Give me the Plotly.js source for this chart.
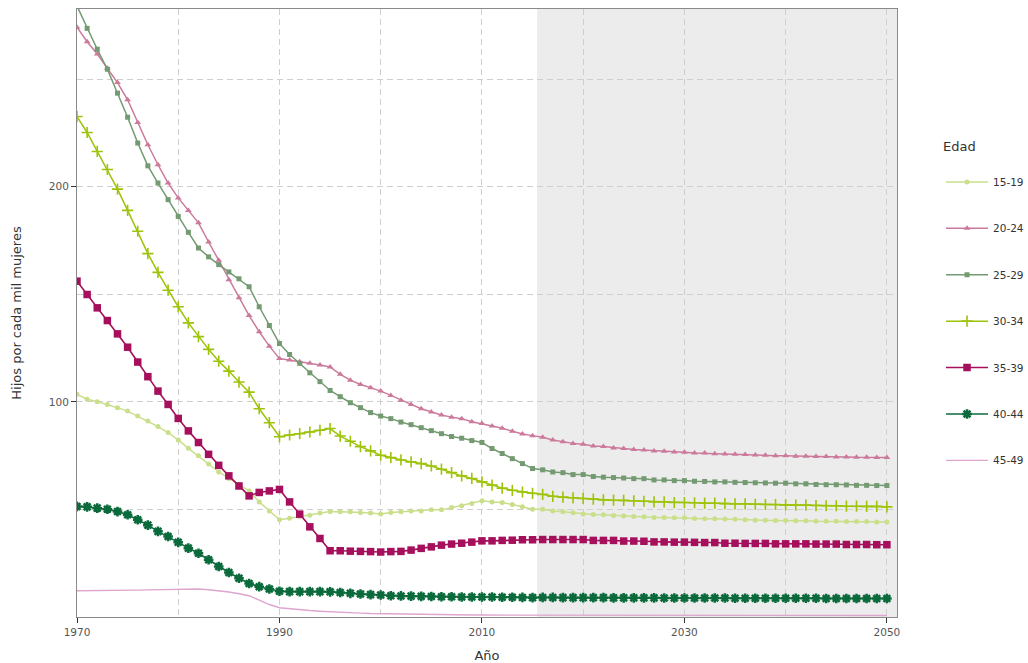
<!DOCTYPE html>
<html>
<head>
<meta charset="utf-8">
<script src="https://cdn.plot.ly/plotly-3.0.1.min.js"></script>
<style>html,body{margin:0;padding:0;background:#fff;}#chart{width:1028px;height:663px;}</style>
</head>
<body>
<div id="chart"></div>
<script>
// Years 1970..2050
const years = Array.from({length: 81}, (_, i) => 1970 + i);
const seriesNames = ["15-19", "20-24", "25-29", "30-34", "35-39", "40-44", "45-49"];

const s1519 = [
 103.5, 101.2, 100.1, 98.8, 97.3, 95.7, 93.4, 91.1, 88.5, 85.7,
 82.3, 78.4, 74.9, 71.1, 67.4, 64.4, 61.7, 58.6, 53.5, 49.3,
 45.2, 45.9, 46.7, 47.3, 48.3, 49.0, 48.9, 48.9, 48.6, 48.3,
 47.9, 48.6, 48.9, 49.3, 49.3, 49.8, 49.8, 50.9, 51.7, 52.8,
 54.0, 53.5, 53.2, 52.3, 51.2, 50.1, 50.1, 49.3, 48.9, 48.4,
 47.9, 47.6, 47.5, 47.2, 46.9, 46.7, 46.6, 46.3, 46.3, 46.1,
 46.1, 45.8, 45.7, 45.7, 45.5, 45.4, 45.2, 45.0, 45.0, 44.9,
 44.9, 44.7, 44.7, 44.5, 44.5, 44.5, 44.4, 44.4, 44.4, 44.2,
 44.2];
const s2024 = [
 274.1, 267.4, 261.7, 255.1, 248.4, 240.4, 229.8, 219.5, 210.2, 201.7,
 194.8, 189.0, 183.2, 174.3, 165.8, 156.8, 148.4, 140.1, 132.6, 125.9,
 120.1, 119.4, 118.6, 117.9, 117.1, 116.2, 112.8, 110.1, 108.1, 106.6,
 105.0, 103.0, 100.8, 98.8, 96.8, 95.3, 93.9, 92.9, 92.2, 90.8,
 89.9, 88.8, 87.7, 86.3, 85.1, 84.3, 83.5, 82.3, 81.5, 80.7,
 80.3, 79.5, 79.2, 78.6, 78.3, 77.8, 77.6, 77.2, 77.0, 76.7,
 76.6, 76.2, 76.2, 75.9, 75.8, 75.6, 75.5, 75.3, 75.2, 75.0,
 75.0, 74.7, 74.7, 74.6, 74.6, 74.4, 74.4, 74.2, 74.2, 74.1,
 74.1];
const s2529 = [
 284.0, 273.6, 263.9, 254.6, 243.5, 232.3, 220.3, 209.7, 201.7, 194.0,
 186.2, 178.8, 171.5, 167.4, 163.8, 160.4, 157.2, 153.5, 144.2, 135.5,
 127.1, 122.0, 117.9, 113.5, 109.4, 105.3, 102.4, 99.6, 97.3, 95.0,
 93.4, 92.2, 90.6, 89.4, 88.0, 86.6, 85.2, 83.9, 83.1, 82.0,
 81.1, 78.3, 76.0, 73.6, 71.3, 69.0, 68.4, 67.4, 67.1, 66.2,
 66.2, 65.3, 65.0, 64.8, 64.6, 64.3, 64.3, 63.7, 63.7, 63.4,
 63.4, 63.1, 63.0, 62.8, 62.8, 62.6, 62.5, 62.4, 62.3, 62.2,
 62.2, 61.9, 61.9, 61.6, 61.5, 61.5, 61.4, 61.2, 61.2, 61.1,
 61.1];
const s3034 = [
 232.6, 225.2, 216.4, 208.0, 198.9, 189.0, 179.3, 168.9, 160.2, 151.9,
 144.2, 136.7, 130.3, 124.4, 118.9, 114.3, 109.2, 104.5, 96.8, 90.3,
 83.8, 84.6, 85.2, 86.0, 86.8, 87.6, 84.1, 81.7, 79.2, 77.2,
 75.2, 74.1, 73.0, 72.1, 71.3, 70.2, 68.7, 67.1, 65.6, 64.4,
 62.8, 61.3, 59.9, 58.9, 58.1, 57.5, 57.0, 56.1, 55.7, 55.4,
 55.1, 54.8, 54.4, 54.3, 54.2, 54.0, 53.8, 53.5, 53.5, 53.2,
 53.2, 53.1, 52.9, 52.9, 52.7, 52.6, 52.6, 52.4, 52.3, 52.3,
 52.1, 52.0, 52.0, 51.8, 51.7, 51.7, 51.5, 51.5, 51.4, 51.4,
 51.2];
const s3539 = [
 156.1, 149.9, 143.7, 137.8, 131.6, 125.4, 118.5, 111.7, 105.0, 98.8,
 92.3, 86.5, 81.1, 75.6, 70.5, 65.6, 60.9, 56.3, 57.9, 58.6,
 59.3, 53.5, 47.8, 41.9, 36.5, 30.8, 30.8, 30.6, 30.5, 30.4,
 30.2, 30.4, 30.5, 31.1, 31.9, 32.6, 33.4, 33.9, 34.3, 34.8,
 35.4, 35.4, 35.6, 35.7, 35.9, 35.9, 36.0, 36.0, 36.0, 36.0,
 36.0, 35.6, 35.6, 35.6, 35.3, 35.3, 35.2, 34.9, 34.9, 34.8,
 34.8, 34.7, 34.6, 34.6, 34.3, 34.3, 34.2, 34.2, 34.2, 34.0,
 34.0, 34.0, 34.0, 33.9, 33.9, 33.9, 33.7, 33.7, 33.7, 33.6,
 33.6];
const s4044 = [
 51.4, 51.2, 50.6, 50.1, 49.0, 47.5, 45.2, 42.7, 39.8, 37.4,
 34.7, 32.0, 29.6, 26.6, 23.5, 20.7, 18.0, 15.6, 14.1, 13.0,
 12.0, 11.8, 11.8, 11.8, 11.8, 11.7, 11.4, 11.0, 10.7, 10.4,
 10.2, 9.9, 9.8, 9.7, 9.6, 9.5, 9.4, 9.4, 9.3, 9.3,
 9.3, 9.3, 9.2, 9.2, 9.1, 9.0, 9.1, 9.1, 9.0, 9.0,
 9.0, 9.0, 9.0, 8.9, 8.9, 8.9, 8.9, 8.9, 8.8, 8.8,
 8.8, 8.8, 8.8, 8.8, 8.8, 8.7, 8.7, 8.7, 8.7, 8.7,
 8.7, 8.7, 8.7, 8.7, 8.6, 8.6, 8.6, 8.6, 8.6, 8.6,
 8.6];
const s4549 = [
 12.2, 12.2, 12.2, 12.3, 12.3, 12.4, 12.5, 12.6, 12.7, 12.7,
 12.8, 12.9, 13.0, 12.7, 12.2, 11.6, 10.8, 9.9, 7.8, 5.8,
 4.3, 3.8, 3.4, 3.0, 2.7, 2.4, 2.2, 2.0, 1.8, 1.6,
 1.5, 1.4, 1.3, 1.2, 1.1, 1.0, 1.0, 0.9, 0.9, 0.9,
 0.9, 0.9, 0.9, 0.9, 0.9, 0.8, 0.8, 0.8, 0.8, 0.8,
 0.8, 0.8, 0.8, 0.8, 0.8, 0.8, 0.8, 0.8, 0.8, 0.8,
 0.8, 0.8, 0.8, 0.8, 0.8, 0.7, 0.7, 0.7, 0.7, 0.7,
 0.7, 0.7, 0.7, 0.7, 0.7, 0.7, 0.7, 0.7, 0.7, 0.7,
 0.7];
const projectionStart = 2015.45;
const xTickVals = [1970, 1990, 2010, 2030, 2050];
const yTickVals = [100, 200];

const values = [s1519, s2024, s2529, s3034, s3539, s4044, s4549];
const colors = ["#c9df8a", "#cc7a9b", "#739a71", "#9dc30a", "#a50f5c", "#0b6a3b", "#dea5cf"];
const markers = [
  {symbol: "circle", size: 5},
  {symbol: "triangle-up", size: 6},
  {symbol: "square", size: 5},
  {symbol: "cross-thin-open", size: 8, line: {width: 1.6}},
  {symbol: "square", size: 7.5},
  {symbol: "asterisk-open", size: 8, line: {width: 2.5}},
  null
];
const lineWidths = [1.5, 1.5, 1.5, 1.5, 1.6, 1.6, 1.4];

const traces = seriesNames.map((name, i) => {
  const t = {
    type: "scatter",
    x: years,
    y: values[i],
    name: name,
    legendgroup: name,
    line: {color: colors[i], width: lineWidths[i]},
    mode: markers[i] ? "lines+markers" : "lines"
  };
  if (markers[i]) {
    const m = Object.assign({color: colors[i]}, markers[i]);
    m.line = Object.assign({color: colors[i]}, markers[i].line || {width: 0});
    t.marker = m;
  }
  return t;
});

const fontFam = "DejaVu Sans, sans-serif";
const gridCol = "#cfcfcf";
const layout = {
  width: 1028, height: 663,
  margin: {l: 77, r: 131, t: 9, b: 46, autoexpand: false},
  paper_bgcolor: "#ffffff",
  plot_bgcolor: "#ffffff",
  font: {family: fontFam, color: "#444", size: 11},
  showlegend: true,
  legend: {
    x: 1.0537, xanchor: "left", y: 0.795, yanchor: "top",
    title: {text: "Edad<br> ", font: {size: 13, color: "#333"}},
    font: {size: 10.5, color: "#333"},
    tracegroupgap: 27.4,
    itemwidth: 42
  },
  xaxis: {
    range: [1970, 2051],
    tickvals: xTickVals,
    ticktext: xTickVals.map(String),
    ticks: "outside", ticklen: 5, tickcolor: "#333", tickwidth: 1,
    showgrid: true, gridcolor: gridCol, griddash: "6px,4px", gridwidth: 1,
    minor: {dtick: 10, tick0: 1970, showgrid: true, gridcolor: gridCol, griddash: "6px,4px", gridwidth: 1, ticks: ""},
    showline: true, linecolor: "#8a8a8a", linewidth: 1, mirror: true,
    zeroline: false,
    tickfont: {size: 10.5, color: "#555"},
    title: {text: "Año", font: {size: 13, color: "#333"}, standoff: 14}
  },
  yaxis: {
    range: [0, 282.6],
    tickvals: yTickVals,
    ticktext: yTickVals.map(String),
    ticks: "outside", ticklen: 5, tickcolor: "#333", tickwidth: 1,
    showgrid: true, gridcolor: gridCol, griddash: "6px,4px", gridwidth: 1,
    minor: {dtick: 50, tick0: 0, showgrid: true, gridcolor: gridCol, griddash: "6px,4px", gridwidth: 1, ticks: ""},
    showline: true, linecolor: "#8a8a8a", linewidth: 1, mirror: true,
    zeroline: false,
    tickfont: {size: 10.5, color: "#555"},
    title: {text: "Hijos por cada mil mujeres", font: {size: 13, color: "#333"}, standoff: 24}
  },
  shapes: [{
    type: "rect", xref: "x", yref: "paper",
    x0: projectionStart, x1: 2051, y0: 0, y1: 1,
    fillcolor: "#ececec", line: {width: 0}, layer: "below"
  }]
};

Plotly.newPlot("chart", traces, layout, {displayModeBar: false, staticPlot: true});
</script>
</body>
</html>
